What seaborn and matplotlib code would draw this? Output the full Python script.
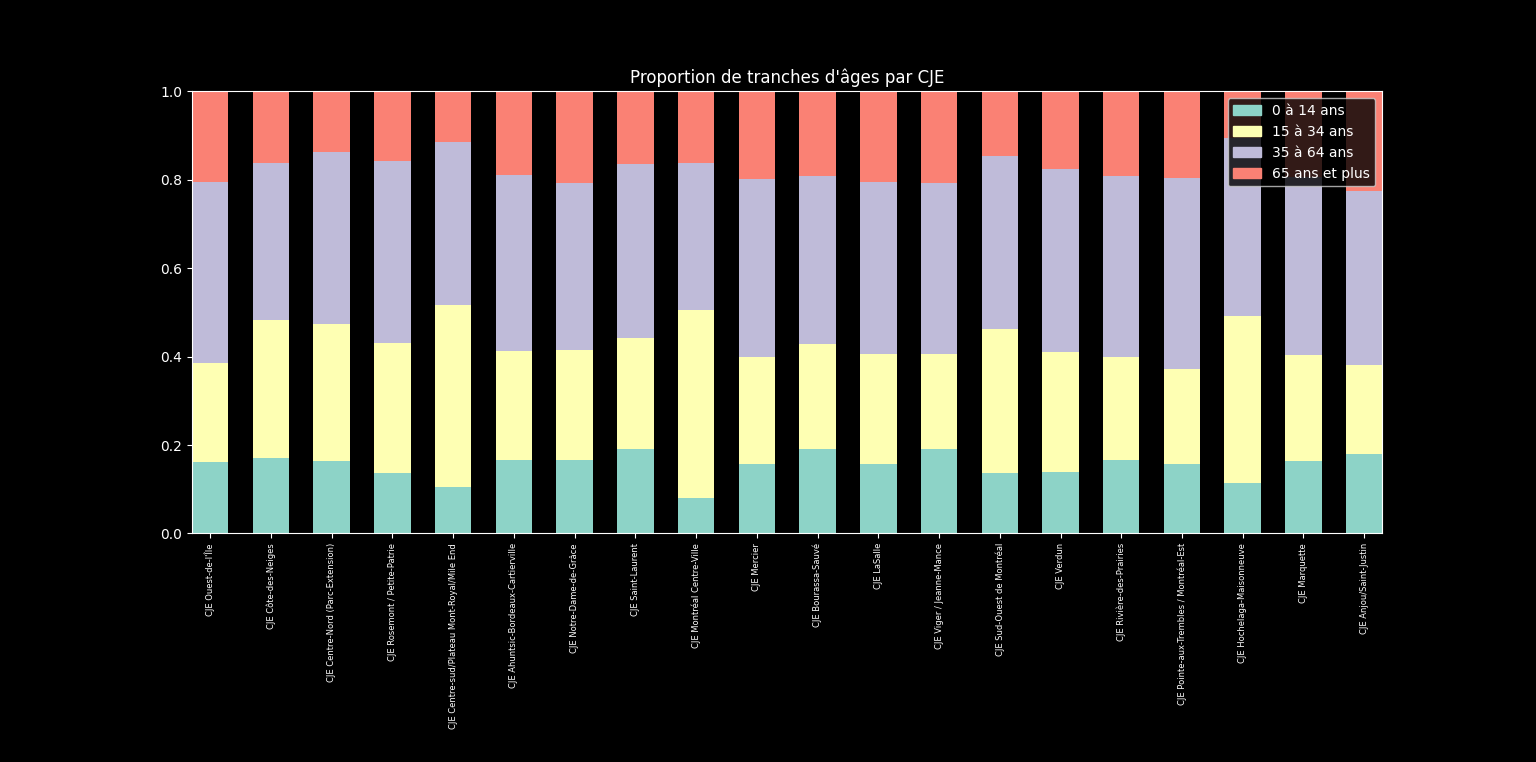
import matplotlib
matplotlib.use("Agg")
import matplotlib.pyplot as plt
import matplotlib.patches as mpatches
import numpy as np
import seaborn as sns

categories = [
    "CJE Ouest-de-l'Île", "CJE Côte-des-Neiges", "CJE Centre-Nord (Parc-Extension)",
    "CJE Rosemont / Petite-Patrie", "CJE Centre-sud/Plateau Mont-Royal/Mile End",
    "CJE Ahuntsic-Bordeaux-Cartierville", "CJE Notre-Dame-de-Grâce", "CJE Saint-Laurent",
    "CJE Montréal Centre-Ville", "CJE Mercier", "CJE Bourassa-Sauvé", "CJE LaSalle",
    "CJE Viger / Jeanne-Mance", "CJE Sud-Ouest de Montréal", "CJE Verdun",
    "CJE Rivière-des-Prairies", "CJE Pointe-aux-Trembles / Montréal-Est",
    "CJE Hochelaga-Maisonneuve", "CJE Marquette", "CJE Anjou/Saint-Justin",
]
age_0_14 = [0.161, 0.170, 0.163, 0.136, 0.104, 0.167, 0.165, 0.192, 0.081, 0.158,
            0.190, 0.156, 0.192, 0.136, 0.138, 0.167, 0.156, 0.115, 0.163, 0.179]
age_15_34 = [0.224, 0.312, 0.310, 0.294, 0.412, 0.245, 0.249, 0.249, 0.424, 0.240,
             0.238, 0.251, 0.213, 0.326, 0.272, 0.231, 0.215, 0.376, 0.240, 0.203]
age_35_64 = [0.409, 0.357, 0.389, 0.412, 0.369, 0.398, 0.378, 0.394, 0.332, 0.405,
             0.380, 0.389, 0.387, 0.393, 0.414, 0.410, 0.434, 0.403, 0.403, 0.392]
age_65_plus = [0.206, 0.161, 0.138, 0.158, 0.115, 0.190, 0.208, 0.165, 0.163, 0.197,
               0.192, 0.204, 0.208, 0.145, 0.176, 0.192, 0.195, 0.106, 0.194, 0.226]
series_labels = ["0 à 14 ans", "15 à 34 ans", "35 à 64 ans", "65 ans et plus"]

plt.style.use("dark_background")
colors = ["#8dd3c7", "#feffb3", "#bfbbd9", "#fa8174"]

fig, ax = plt.subplots(figsize=(15.36, 7.62), dpi=100)
fig.subplots_adjust(left=0.125, right=0.9, top=0.88, bottom=0.3)

bottom = np.zeros(len(categories))
handles = []
for vals, lab, col in zip([age_0_14, age_15_34, age_35_64, age_65_plus], series_labels, colors):
    sns.barplot(x=categories, y=vals, bottom=bottom, color=col, width=0.6,
                errorbar=None, linewidth=0, saturation=1, ax=ax)
    bottom = bottom + np.array(vals)
    handles.append(mpatches.Patch(color=col, label=lab))

ax.set_xlim(-0.3, len(categories) - 0.7)
ax.set_ylim(0, 1)
ax.set_yticks([0.0, 0.2, 0.4, 0.6, 0.8, 1.0])
ax.tick_params(axis="x", labelsize=6, labelrotation=90)
ax.set_title("Proportion de tranches d'âges par CJE", fontsize=12)
ax.legend(handles=handles, loc="upper right")
for s in ax.spines.values():
    s.set_visible(True)
    s.set_color("white")

fig.savefig("out.png", dpi=100)
